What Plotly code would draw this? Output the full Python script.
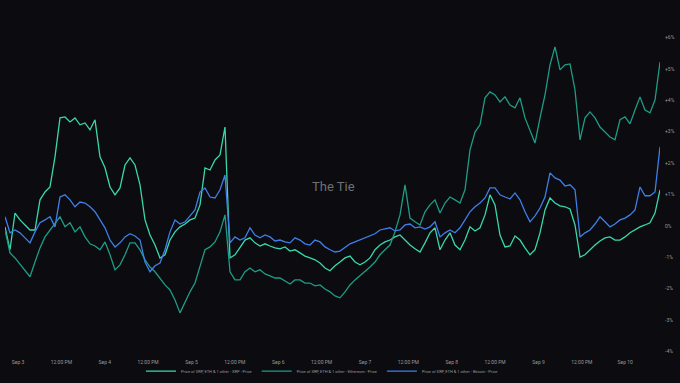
import pandas as pd
import plotly.graph_objects as go

# Percent change series, one point every ~83 minutes
start_time = "2024-09-02 20:24"
step = "83min"

xrp_pct = [
    -0.03, -0.76, 0.41, 0.19, 0.03, -0.13, -0.13, 0.83, 1.08, 1.24, 2.20, 3.44, 3.47, 3.31, 3.44, 3.22,
    3.28, 3.06, 3.38, 2.20, 1.85, 1.24, 0.99, 1.21, 1.94, 2.17, 1.94, 1.31, 0.19, -0.29, -0.61, -1.02,
    -0.92, -0.45, -0.19, -0.03, 0.06, 0.19, 0.25, 0.67, 1.85, 1.78, 2.10, 2.26, 3.15, -1.02, -0.92, -0.67,
    -0.45, -0.38, -0.54, -0.64, -0.57, -0.64, -0.70, -0.73, -0.67, -0.80, -0.76, -0.86, -0.96, -1.02, -1.08, -1.18,
    -1.34, -1.43, -1.27, -1.15, -1.02, -0.96, -1.15, -1.24, -1.15, -1.02, -0.76, -0.61, -0.51, -0.45, -0.35, -0.29,
    -0.45, -0.61, -0.73, -0.83, -0.54, -0.22, -0.06, -0.76, -0.45, -0.22, -0.61, -0.76, -0.45, -0.03, -0.16, -0.06,
    0.35, 0.99, 0.67, -0.29, -0.67, -0.64, -0.32, -0.45, -0.70, -0.92, -0.76, -0.22, 0.51, 0.89, 0.73, 0.64,
    0.61, 0.54, 0.03, -0.99, -0.92, -0.76, -0.61, -0.48, -0.38, -0.35, -0.45, -0.45, -0.35, -0.22, -0.13, -0.03,
    0.03, 0.10, 0.41, 1.15,
]

eth_pct = [
    -0.13, -0.86, -1.02, -1.21, -1.40, -1.62, -1.15, -0.70, -0.35, -0.13, 0.10, 0.29, -0.03, 0.10, -0.19, -0.03,
    -0.35, -0.57, -0.64, -0.76, -0.51, -0.92, -1.40, -1.24, -0.92, -0.54, -0.54, -0.76, -1.08, -1.31, -1.46, -1.66,
    -1.88, -2.04, -2.36, -2.77, -2.42, -2.10, -1.82, -1.31, -0.76, -0.67, -0.51, -0.19, 0.35, -1.46, -1.72, -1.72,
    -1.46, -1.34, -1.46, -1.40, -1.53, -1.59, -1.66, -1.66, -1.75, -1.85, -1.72, -1.72, -1.82, -1.82, -1.91, -1.88,
    -2.01, -2.10, -2.23, -2.29, -2.10, -1.88, -1.72, -1.59, -1.46, -1.31, -1.15, -0.92, -0.76, -0.61, -0.19, 0.35,
    1.31, 0.25, 0.13, 0.03, 0.45, 0.67, 0.83, 0.41, 0.73, 0.92, 0.83, 0.73, 1.15, 2.42, 2.99, 3.22,
    4.08, 4.27, 4.17, 3.95, 4.11, 3.85, 3.76, 4.08, 3.44, 3.06, 2.64, 3.44, 4.17, 5.13, 5.70, 4.97,
    5.13, 5.16, 4.33, 2.74, 3.44, 3.63, 3.44, 3.15, 2.99, 2.83, 2.74, 3.38, 3.47, 3.25, 3.69, 4.11,
    3.69, 3.60, 4.01, 5.22,
]

btc_pct = [
    0.29, -0.22, -0.13, -0.22, -0.38, -0.54, -0.19, 0.10, 0.19, 0.29, -0.03, 0.92, 0.99, 0.83, 0.61, 0.76,
    0.73, 0.61, 0.45, 0.19, -0.06, -0.45, -0.67, -0.54, -0.35, -0.25, -0.32, -0.45, -1.15, -1.46, -1.27, -1.18,
    -0.76, -0.19, 0.19, 0.06, 0.13, 0.32, 0.51, 1.08, 1.21, 0.92, 0.89, 1.15, 1.62, -0.54, -0.35, -0.45,
    -0.38, -0.06, -0.29, -0.38, -0.29, -0.35, -0.48, -0.45, -0.51, -0.54, -0.38, -0.45, -0.57, -0.61, -0.45, -0.51,
    -0.67, -0.76, -0.83, -0.80, -0.67, -0.57, -0.51, -0.45, -0.38, -0.32, -0.25, -0.13, -0.10, -0.06, -0.16, -0.13,
    0.03, 0.06, -0.06, -0.03, -0.10, -0.03, 0.13, -0.35, -0.22, -0.13, -0.22, -0.06, 0.19, 0.45, 0.61, 0.73,
    0.89, 1.21, 1.21, 0.99, 0.92, 0.86, 1.05, 0.83, 0.45, 0.13, 0.32, 0.57, 0.92, 1.69, 1.53, 1.46,
    1.27, 1.31, 1.15, -0.35, -0.22, -0.13, 0.06, 0.29, 0.13, -0.03, 0.06, 0.19, 0.25, 0.35, 0.51, 1.24,
    0.96, 0.96, 1.08, 2.52,
]

series_names = [
    "Price of XRP, ETH & 1 other - XRP - Price",
    "Price of XRP, ETH & 1 other - Ethereum - Price",
    "Price of XRP, ETH & 1 other - Bitcoin - Price",
]
series_colors = ["#3ad8ac", "#1f9c86", "#3f7fe8"]

x_tick_values = pd.date_range("2024-09-03 00:00", "2024-09-10 00:00", freq="12h")
x_tick_labels = ["Sep 3", "12:00 PM", "Sep 4", "12:00 PM", "Sep 5", "12:00 PM", "Sep 6", "12:00 PM",
                 "Sep 7", "12:00 PM", "Sep 8", "12:00 PM", "Sep 9", "12:00 PM", "Sep 10"]
y_tick_values = [6, 5, 4, 3, 2, 1, 0, -1, -2, -3, -4]
y_tick_labels = ["+6%", "+5%", "+4%", "+3%", "+2%", "+1%", "0%", "-1%", "-2%", "-3%", "-4%"]

times = pd.date_range(start_time, periods=len(xrp_pct), freq=step)

fig = go.Figure()
for name, vals, col in zip(series_names, [xrp_pct, eth_pct, btc_pct], series_colors):
    fig.add_trace(go.Scatter(x=times, y=vals, mode="lines", name=name,
                             line=dict(color=col, width=1.3), hoverinfo="skip"))

bg = "#0b0b10"
fig.update_layout(
    width=680, height=383,
    paper_bgcolor=bg, plot_bgcolor=bg,
    margin=dict(l=5, r=20, t=30, b=29, autoexpand=False),
    showlegend=True,
    legend=dict(orientation="h", x=0.484, xanchor="center", y=-0.053, yanchor="middle",
                font=dict(size=4, color="#9a9a9a", family="Roboto"), bgcolor="rgba(0,0,0,0)",
                itemwidth=30),
    xaxis=dict(range=[times[0], times[-1]], tickvals=x_tick_values, ticktext=x_tick_labels,
               showgrid=False, zeroline=False, showline=False, ticks="", ticklabelstandoff=4,
               automargin=False,
               tickfont=dict(size=5, color="#9a9a9a", family="Roboto")),
    yaxis=dict(range=[-4.08, 6.24], side="right", tickvals=y_tick_values, ticktext=y_tick_labels,
               showgrid=False, zeroline=False, showline=False, ticks="", ticklabelstandoff=4,
               automargin=False,
               tickfont=dict(size=5, color="#9a9a9a", family="Roboto")),
    annotations=[dict(text="The Tie", x=0.5008, y=0.518, xref="paper", yref="paper",
                      showarrow=False, font=dict(size=13, color="#707074", family="Roboto"))],
)

fig.write_html("out.html", config={"displayModeBar": False},
               post_script="document.body.style.margin='0';document.body.style.background='#0b0b10';")
